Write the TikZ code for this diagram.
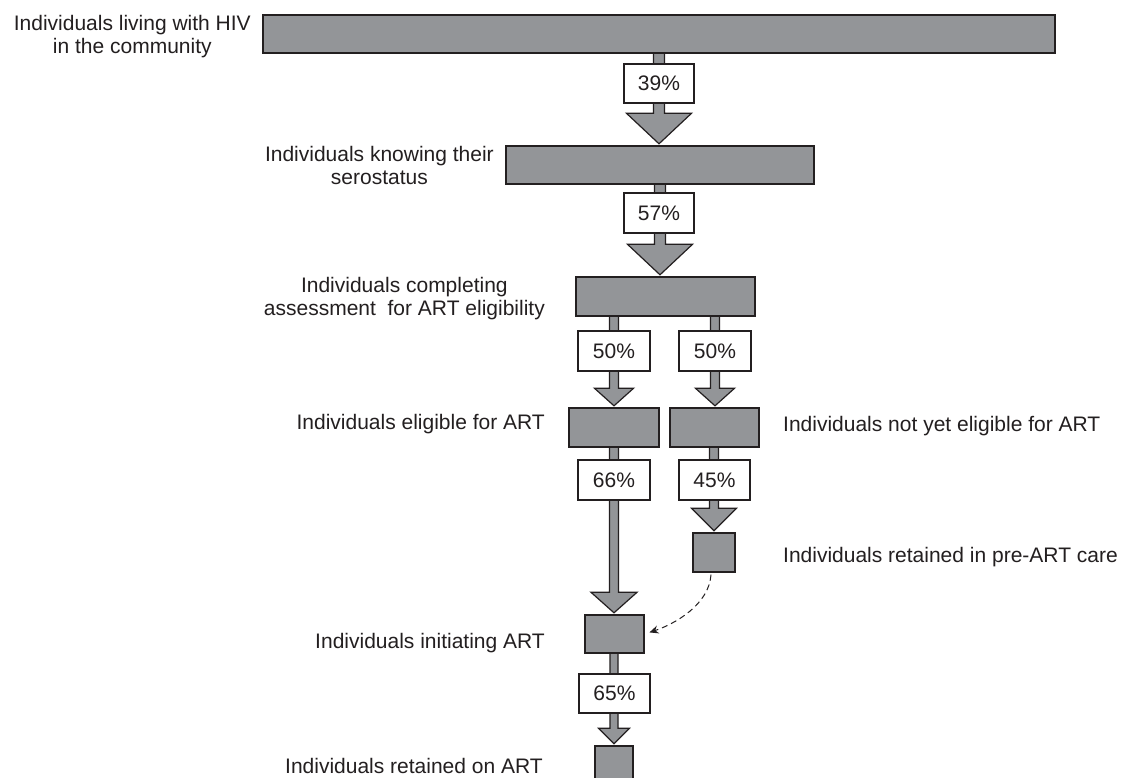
\documentclass[tikz,border=0pt]{standalone}
\usepackage{fontspec}
\setmainfont{Liberation Sans}
\usetikzlibrary{calc,arrows.meta,backgrounds}
\definecolor{boxgray}{HTML}{939598}
\definecolor{ink}{HTML}{231F20}
\newcommand{\lblfont}{\fontsize{21}{23.5}\selectfont}
\tikzset{
  bar/.style={rectangle, draw=ink, fill=boxgray, line width=1.4pt, inner sep=0pt},
  pct/.style={rectangle, draw=ink, fill=white, line width=1.2pt, inner sep=0pt, text=ink, font=\lblfont},
  lbl/.style={text=ink, font=\lblfont, inner sep=0pt},
  fat/.style={draw=ink, fill=boxgray, line width=1.2pt, line join=miter},
  dasharrow/.style={draw=ink, line width=1pt, dash pattern=on 6pt off 4pt,
    -{Stealth[length=9pt,width=8pt]}, shorten >=5pt}
}
% #1 from node, #2 to node, #3 x, #4 shaft half width, #5 head half width, #6 head length
\newcommand{\fatarrow}[6]{%
  \path[fat] let \p1=(#1.south), \p2=(#2.north) in
    ({(#3-#4)*1pt},{\y1+3pt}) -- ({(#3-#4)*1pt},{\y2+#6*1pt})
    -- ({(#3-#5)*1pt},{\y2+#6*1pt}) -- ({#3*1pt},{\y2+1.5pt})
    -- ({(#3+#5)*1pt},{\y2+#6*1pt}) -- ({(#3+#4)*1pt},{\y2+#6*1pt})
    -- ({(#3+#4)*1pt},{\y1+3pt}) -- cycle;}
\begin{document}
\begin{tikzpicture}[x=1pt,y=-1pt]
\useasboundingbox (0,0) rectangle (1128,778);
% bars
\node[bar, minimum width=792pt, minimum height=38pt] (b1) at (659,34) {};
\node[bar, minimum width=308pt, minimum height=38pt] (b2) at (660,165) {};
\node[bar, minimum width=179pt, minimum height=39pt] (b3) at (665.5,296.5) {};
\node[bar, minimum width=90pt, minimum height=39pt] (b4l) at (614,427.5) {};
\node[bar, minimum width=89pt, minimum height=39pt] (b4r) at (714.5,427.5) {};
\node[bar, minimum width=42pt, minimum height=39pt] (b5) at (714,552.5) {};
\node[bar, minimum width=59pt, minimum height=38pt] (b6) at (614.5,634) {};
\node[bar, minimum width=38pt, minimum height=40pt] (b7) at (614,766) {};
% percentage boxes
\node[pct, minimum width=70pt, minimum height=39pt] (p39) at (659,83.5) {39\%};
\node[pct, minimum width=70pt, minimum height=40pt] (p57) at (659,213) {57\%};
\node[pct, minimum width=72pt, minimum height=40pt] (p50a) at (614,351) {50\%};
\node[pct, minimum width=72pt, minimum height=40pt] (p50b) at (715,351) {50\%};
\node[pct, minimum width=72pt, minimum height=40pt] (p66) at (614,480) {66\%};
\node[pct, minimum width=71pt, minimum height=40pt] (p45) at (714.5,480) {45\%};
\node[pct, minimum width=71pt, minimum height=39pt] (p65) at (614.5,693.5) {65\%};
% labels
\node[lbl, anchor=base east, align=center] (t1) at (251,54) {Individuals living with HIV\\in the community};
\node[lbl, anchor=base east, align=center] (t2) at (494,185) {Individuals knowing their\\serostatus};
\node[lbl, anchor=base east, align=center] (t3) at (545,316) {Individuals completing\\assessment\ \ for ART eligibility};
\node[lbl, anchor=base east] (t4) at (545,429) {Individuals eligible for ART};
\node[lbl, anchor=base west] (t5) at (783,431) {Individuals not yet eligible for ART};
\node[lbl, anchor=base west] (t6) at (783,562) {Individuals retained in pre-ART care};
\node[lbl, anchor=base east] (t7) at (545,648) {Individuals initiating ART};
\node[lbl, anchor=base east] (t8) at (543,773) {Individuals retained on ART};
% dashed connector
\draw[dasharrow] ($(b5.south)+(-3,2)$) .. controls +(-2,30) and +(30,-10) .. (b6.east);
\begin{pgfonlayer}{background}
  \fill[white] (0,0) rectangle (1128,778);
  \fatarrow{b1}{b2}{659}{5.5}{32.5}{32}
  \fatarrow{b2}{b3}{660}{5.5}{32.5}{32}
  \fatarrow{b3}{b4l}{614}{4.5}{19.5}{19}
  \fatarrow{b3}{b4r}{715}{4.5}{19.5}{19}
  \fatarrow{b4l}{b6}{614}{4.5}{23}{22}
  \fatarrow{b4r}{b5}{714}{4.5}{22.5}{24}
  \fatarrow{b6}{b7}{614}{4}{15.5}{17}
\end{pgfonlayer}
\end{tikzpicture}
\end{document}
